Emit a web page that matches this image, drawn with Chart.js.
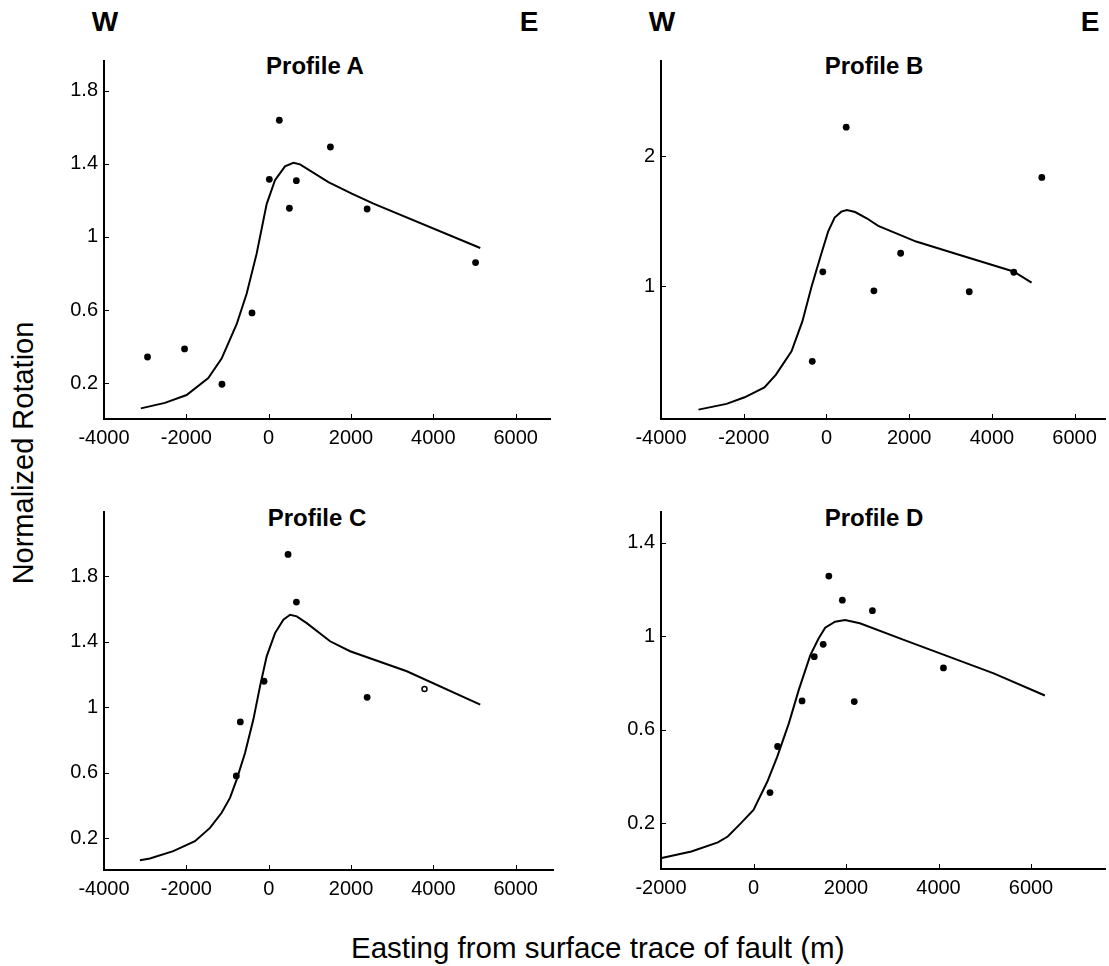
<!DOCTYPE html>
<html>
<head>
<meta charset="utf-8">
<script src="https://cdn.jsdelivr.net/npm/chart.js@4.4.1/dist/chart.umd.min.js"></script>
<style>
  body { margin: 0; background: #fff; }
  #page { position: relative; width: 1109px; height: 966px; overflow: hidden; font-family: 'Liberation Sans', Arial, sans-serif; color: #000; }
  canvas { position: absolute; }
  .lbl { position: absolute; line-height: 1; white-space: nowrap; transform: translate(-50%, -50%); }
  .dir { font-size: 28px; font-weight: bold; }
  .ttl { font-size: 24px; font-weight: bold; }
</style>
</head>
<body>
<div id="page">
  <div class="lbl dir" style="left:105px; top:22px">W</div>
  <div class="lbl dir" style="left:529px; top:22px">E</div>
  <div class="lbl dir" style="left:662px; top:22px">W</div>
  <div class="lbl dir" style="left:1090px; top:22px">E</div>

  <div class="lbl ttl" style="left:315px; top:66px">Profile A</div>
  <div class="lbl ttl" style="left:874px; top:66px">Profile B</div>
  <div class="lbl ttl" style="left:317px; top:518px">Profile C</div>
  <div class="lbl ttl" style="left:874px; top:518px">Profile D</div>

  <div class="lbl" style="left:23px; top:453px; font-size:29px; transform: translate(-50%, -50%) rotate(-90deg)">Normalized Rotation</div>
  <div class="lbl" style="left:351px; top:948px; font-size:29.5px; transform: translate(0, -50%)">Easting from surface trace of fault (m)</div>

  <canvas id="chartA" width="570" height="440" style="left:0px; top:30px"></canvas>
  <canvas id="chartB" width="519" height="440" style="left:590px; top:30px"></canvas>
  <canvas id="chartC" width="570" height="440" style="left:0px; top:480px"></canvas>
  <canvas id="chartD" width="519" height="440" style="left:590px; top:480px"></canvas>
</div>

<script>
// Model curves (line) and measured rotations (dots), easting in metres

// Profile A
const lineAX = [-3105, -2521, -1994, -1467, -1143, -778, -535, -292, -49, 154, 397, 600, 762, 1451, 2019, 2546, 5140]
const lineAY = [0.063, 0.093, 0.136, 0.229, 0.335, 0.523, 0.69, 0.909, 1.18, 1.31, 1.386, 1.406, 1.397, 1.3, 1.237, 1.182, 0.94]
const ptsAX = [-2943, -2043, -1135, -405, 16, 259, 503, 673, 1500, 2392, 5026]
const ptsAY = [0.344, 0.388, 0.195, 0.585, 1.315, 1.638, 1.157, 1.308, 1.492, 1.153, 0.86]

// Profile B
const lineBX = [-3094, -2416, -1978, -1499, -1220, -845, -582, -359, -144, 40, 199, 359, 494, 694, 973, 1252, 2169, 3086, 4522, 4960]
const lineBY = [0.051, 0.095, 0.146, 0.222, 0.32, 0.499, 0.729, 0.997, 1.228, 1.419, 1.527, 1.573, 1.586, 1.57, 1.522, 1.463, 1.343, 1.253, 1.113, 1.028]
const ptsBX = [-343, -88, 478, 1148, 1794, 3453, 4530, 5207]
const ptsBY = [0.422, 1.11, 2.222, 0.964, 1.253, 0.957, 1.107, 1.836]

// Profile C
const lineCX = [-3128, -2885, -2318, -1791, -1426, -1143, -940, -778, -575, -373, -211, -49, 154, 357, 519, 681, 924, 1491, 1977, 3355, 5138]
const lineCY = [0.067, 0.077, 0.122, 0.183, 0.264, 0.356, 0.447, 0.559, 0.721, 0.925, 1.128, 1.311, 1.453, 1.535, 1.565, 1.555, 1.514, 1.403, 1.342, 1.22, 1.016]
const ptsCX = [-786, -689, -113, 470, 673, 2391]
const ptsCY = [0.581, 0.911, 1.159, 1.933, 1.642, 1.061]
const openCX = [3784]
const openCY = [1.112]

// Profile D
const lineDX = [-1986, -1343, -771, -557, -271, 0, 300, 514, 764, 979, 1229, 1407, 1550, 1764, 1979, 2300, 3264, 5193, 6300]
const lineDY = [0.052, 0.08, 0.119, 0.144, 0.201, 0.258, 0.379, 0.486, 0.628, 0.771, 0.92, 0.991, 1.037, 1.063, 1.07, 1.056, 0.984, 0.842, 0.747]
const ptsDX = [357, 521, 1050, 1314, 1507, 1629, 1921, 2179, 2571, 4107]
const ptsDY = [0.332, 0.529, 0.724, 0.913, 0.966, 1.258, 1.155, 0.721, 1.11, 0.865]

// Tick labels
const xTicksABC = [-4000, -2000, 0, 2000, 4000, 6000]
const xTicksD = [-2000, 0, 2000, 4000, 6000]
const yTicksAC = [0.2, 0.6, 1, 1.4, 1.8]
const yTicksB = [1, 2]
const yTicksD = [0.2, 0.6, 1, 1.4]

// Axis ranges [min, max]
const xRangeA = [-4000, 6834]
const yRangeA = [0.005, 1.962]
const xRangeB = [-4000, 6735]
const yRangeB = [-0.021, 2.731]
const xRangeC = [-4000, 6905]
const yRangeC = [0.007, 2.192]
const xRangeD = [-2000, 7600]
const yRangeD = [0.005, 1.532]

const FONT = "'Liberation Sans', Arial, sans-serif"

function toPoints(xs, ys) {
  return xs.map((x, i) => ({ x: x, y: ys[i] }))
}

// small tick marks pointing into the plot
const innerTicks = {
  id: 'innerTicks',
  afterDraw(chart) {
    const ctx = chart.ctx
    const area = chart.chartArea
    const xs = chart.scales.x
    const ys = chart.scales.y
    ctx.save()
    ctx.strokeStyle = '#000'
    ctx.lineWidth = 1
    ctx.beginPath()
    xs.ticks.forEach((t) => {
      const px = Math.round(xs.getPixelForValue(t.value)) + 0.5
      ctx.moveTo(px, area.bottom)
      ctx.lineTo(px, area.bottom - 5)
    })
    ys.ticks.forEach((t) => {
      const py = Math.round(ys.getPixelForValue(t.value)) + 0.5
      ctx.moveTo(area.left, py)
      ctx.lineTo(area.left + 5, py)
    })
    ctx.stroke()
    ctx.restore()
  },
}

function makeProfile(id, cfg) {
  const datasets = [
    {
      type: 'line',
      data: toPoints(cfg.lineX, cfg.lineY),
      borderColor: '#000',
      borderWidth: 2,
      pointRadius: 0,
      tension: 0,
      fill: false,
    },
    {
      type: 'scatter',
      data: toPoints(cfg.ptsX, cfg.ptsY),
      backgroundColor: '#000',
      borderColor: '#000',
      borderWidth: 0,
      pointRadius: 3.4,
    },
  ]
  if (cfg.openX) {
    datasets.push({
      type: 'scatter',
      data: toPoints(cfg.openX, cfg.openY),
      backgroundColor: '#fff',
      borderColor: '#000',
      borderWidth: 1.5,
      pointRadius: 2.5,
    })
  }

  new Chart(document.getElementById(id), {
    data: { datasets: datasets },
    options: {
      responsive: false,
      animation: false,
      events: [],
      layout: { padding: { top: cfg.padTop, right: cfg.padRight, left: 0, bottom: 0 } },
      plugins: { legend: { display: false }, tooltip: { enabled: false } },
      scales: {
        x: {
          type: 'linear',
          position: 'bottom',
          min: cfg.xRange[0],
          max: cfg.xRange[1],
          afterBuildTicks: (s) => { s.ticks = cfg.xTicks.map((v) => ({ value: v })) },
          afterFit: (s) => { s.height = cfg.xAxisH },
          ticks: {
            autoSkip: false,
            maxRotation: 0,
            padding: 7,
            color: '#000',
            font: { family: FONT, size: 20 },
            callback: (v) => String(v),
          },
          grid: { display: false, drawTicks: false },
          border: { display: true, color: '#000', width: 2 },
        },
        y: {
          type: 'linear',
          position: 'left',
          min: cfg.yRange[0],
          max: cfg.yRange[1],
          afterBuildTicks: (s) => { s.ticks = cfg.yTicks.map((v) => ({ value: v })) },
          afterFit: (s) => { s.width = cfg.yAxisW },
          ticks: {
            autoSkip: false,
            padding: 6,
            color: '#000',
            font: { family: FONT, size: 20 },
            callback: (v) => String(v),
          },
          grid: { display: false, drawTicks: false },
          border: { display: true, color: '#000', width: 2 },
        },
      },
    },
    plugins: [innerTicks],
  })
}

makeProfile('chartA', {
  lineX: lineAX, lineY: lineAY, ptsX: ptsAX, ptsY: ptsAY,
  xTicks: xTicksABC, yTicks: yTicksAC, xRange: xRangeA, yRange: yRangeA,
  yAxisW: 104, xAxisH: 51, padTop: 31, padRight: 20,
})

makeProfile('chartB', {
  lineX: lineBX, lineY: lineBY, ptsX: ptsBX, ptsY: ptsBY,
  xTicks: xTicksABC, yTicks: yTicksB, xRange: xRangeB, yRange: yRangeB,
  yAxisW: 71, xAxisH: 51, padTop: 31, padRight: 0,
})

makeProfile('chartC', {
  lineX: lineCX, lineY: lineCY, ptsX: ptsCX, ptsY: ptsCY,
  openX: openCX, openY: openCY,
  xTicks: xTicksABC, yTicks: yTicksAC, xRange: xRangeC, yRange: yRangeC,
  yAxisW: 104, xAxisH: 50, padTop: 32, padRight: 17,
})

makeProfile('chartD', {
  lineX: lineDX, lineY: lineDY, ptsX: ptsDX, ptsY: ptsDY,
  xTicks: xTicksD, yTicks: yTicksD, xRange: xRangeD, yRange: yRangeD,
  yAxisW: 71, xAxisH: 51, padTop: 32, padRight: 0,
})
</script>
</body>
</html>
